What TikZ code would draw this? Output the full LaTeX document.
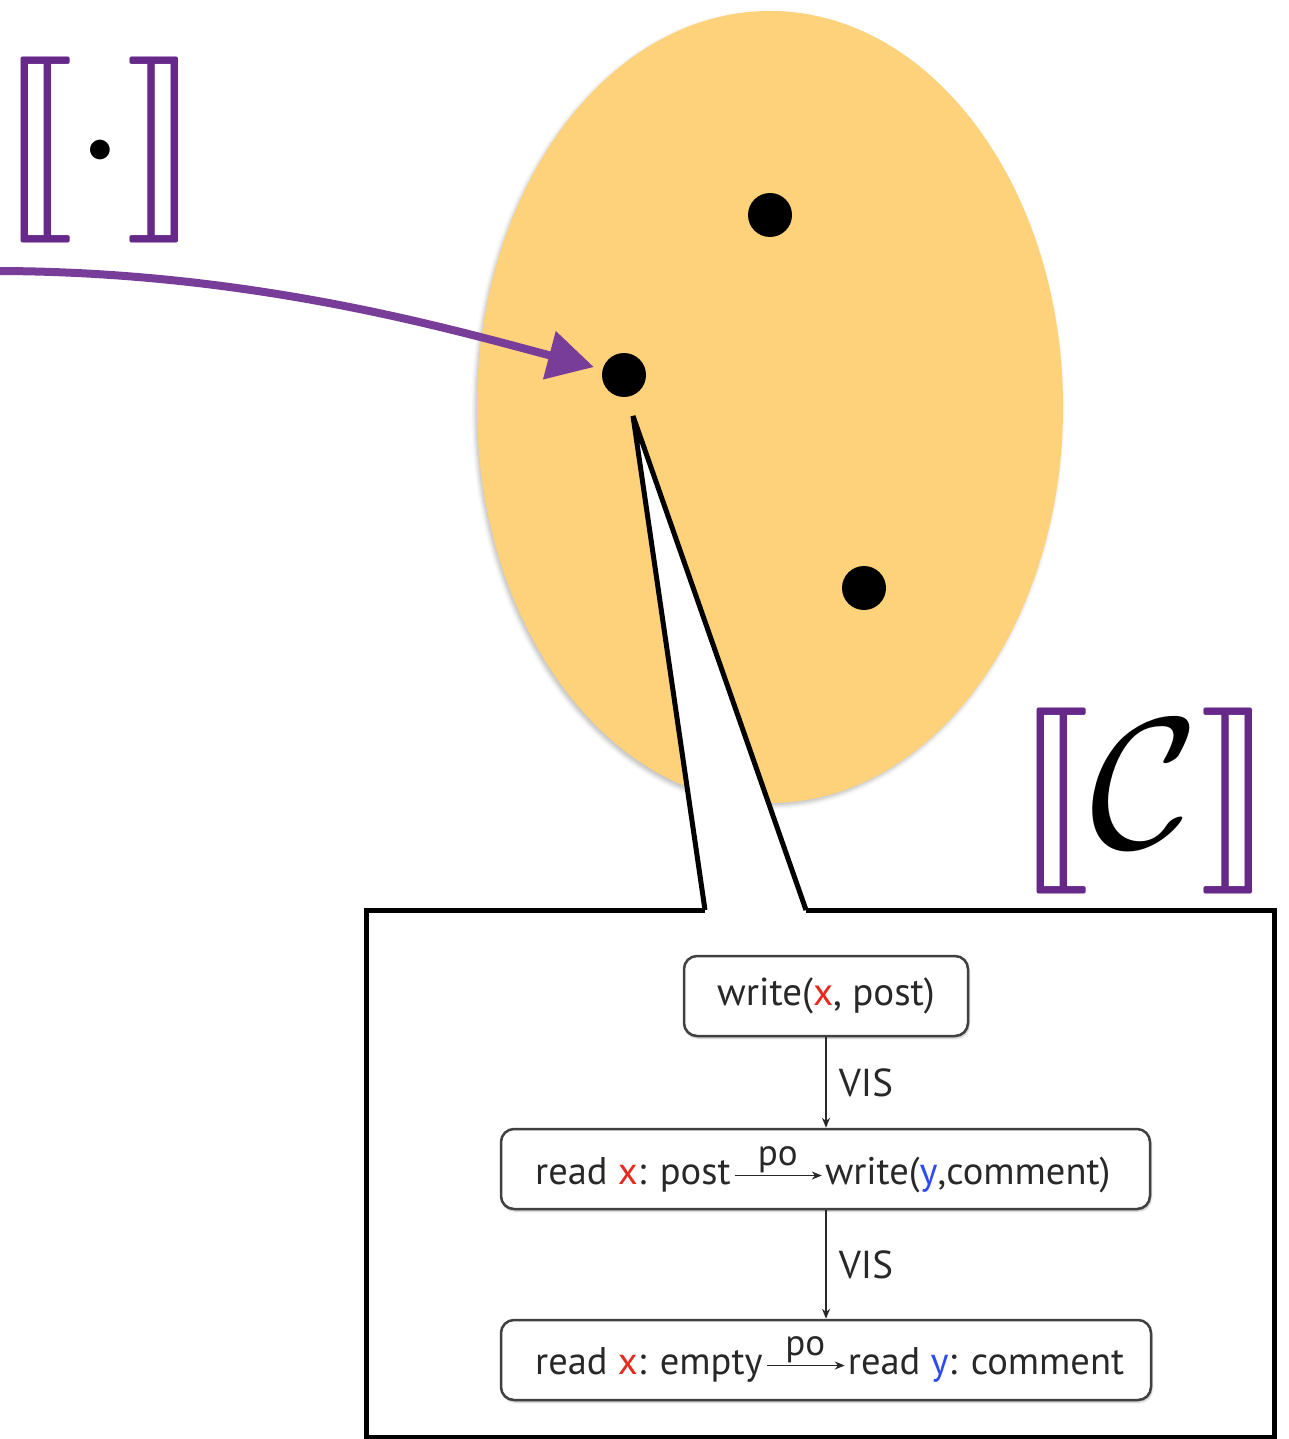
\documentclass[tikz,border=0pt]{standalone}
\usepackage{fontspec}
\setmainfont{PT Sans}
\usepackage{stmaryrd}
\usepackage{graphicx}
\usepackage{tikz}
\usetikzlibrary{arrows.meta,positioning,shadows.blur}
\definecolor{setfill}{RGB}{253,210,123}
\definecolor{sempurple}{RGB}{102,41,138}
\definecolor{maparrow}{RGB}{119,61,153}
\definecolor{varred}{RGB}{232,41,30}
\definecolor{varblue}{RGB}{45,75,240}
\definecolor{evtext}{RGB}{40,40,40}
\newcommand{\vx}{\textcolor{varred}{x}}
\newcommand{\vy}{\textcolor{varblue}{y}}
\newcommand{\semof}[1]{\scalebox{18.6}{$\color{sempurple}\llbracket\color{black}#1\color{sempurple}\rrbracket$}}

\begin{document}
\begin{tikzpicture}[x=1pt,y=-1pt,
  dot/.style={circle,fill=black,inner sep=0pt,minimum size=44pt},
  sem/.style={inner sep=0pt},
  callout/.style={line width=5pt,draw=black},
  evbox/.style={draw=black!75,line width=2.5pt,rounded corners=13pt,fill=white,minimum height=80pt,
    blur shadow={shadow xshift=1pt,shadow yshift=-2pt,shadow blur steps=4,shadow opacity=30}},
  evtxt/.style={inner sep=0pt,text=evtext,font=\fontsize{38.5}{42}\selectfont,text height=28pt,text depth=11pt},
  vis/.style={-{Stealth[length=10pt,width=8pt]},line width=1.6pt,draw=evtext},
  po/.style={-{Stealth[length=10pt,width=8pt]},line width=1.6pt,draw=evtext,shorten <=4pt,shorten >=3pt},
  lbl/.style={text=evtext,font=\fontsize{39}{42}\selectfont,inner sep=12pt},
  polbl/.style={text=evtext,font=\fontsize{37}{40}\selectfont,inner sep=2pt}]
\useasboundingbox (0,0) rectangle (1288,1439);

% the set of executions
\fill[setfill,blur shadow={shadow xshift=-2pt,shadow yshift=-3pt,shadow blur radius=4pt,shadow opacity=25}]
  (770,407) ellipse [x radius=293,y radius=396];
\node[dot] (exa) at (770,215) {};
\node[dot] (exb) at (624,375) {};
\node[dot] (exc) at (864,588) {};

% callout onto one execution
\coordinate (tip) at (633,416);
\coordinate (wl) at (705,910);
\coordinate (wr) at (806,910);
\fill[white] (tip) -- (wl) -- (wr) -- cycle;
\draw[callout] (wl) -- (366,910) -- (366,1437) -- (1274,1437) -- (1274,910) -- (wr);
\draw[callout] (wl) -- (tip) -- (wr);

% semantic brackets
\node[sem] (semdot) at (100,150) {\semof{\cdot}};
\node[sem] (semC) at (1145,801) {\semof{\mathcal{C}}};
\coordinate (src) at (-6,271);
\draw[maparrow,line width=8pt,-{Triangle[length=46pt,width=48pt]},shorten >=9pt]
  (src) .. controls (250,271) and (450,329) .. (exb);

% events of the execution
\node[evbox,minimum width=284pt,text=evtext,font=\fontsize{39}{42}\selectfont] (ev1) at (826,996) {write(\vx, post)};
\node[evbox,minimum width=649pt] (ev2) at (825.5,1169) {};
\node[evbox,minimum width=650pt] (ev3) at (826,1360) {};
\node[evtxt,anchor=base west] (rdx) at (535,1184) {read \vx: post};
\node[evtxt,right=94pt of rdx] (wry) {write(\vy,comment)};
\node[evtxt,anchor=base west] (rdxe) at (535,1374) {read \vx: empty};
\node[evtxt,right=85pt of rdxe] (rdyc) {read \vy: comment};
\draw[po] (rdx) -- node[polbl,above] {po} (wry);
\draw[po] (rdxe) -- node[polbl,above] {po} (rdyc);
\draw[vis] (ev1.south) -- node[lbl,right] {VIS} (ev1.south |- ev2.north);
\draw[vis] (ev1.south |- ev2.south) -- node[lbl,right] {VIS} (ev1.south |- ev3.north);
\end{tikzpicture}
\end{document}
